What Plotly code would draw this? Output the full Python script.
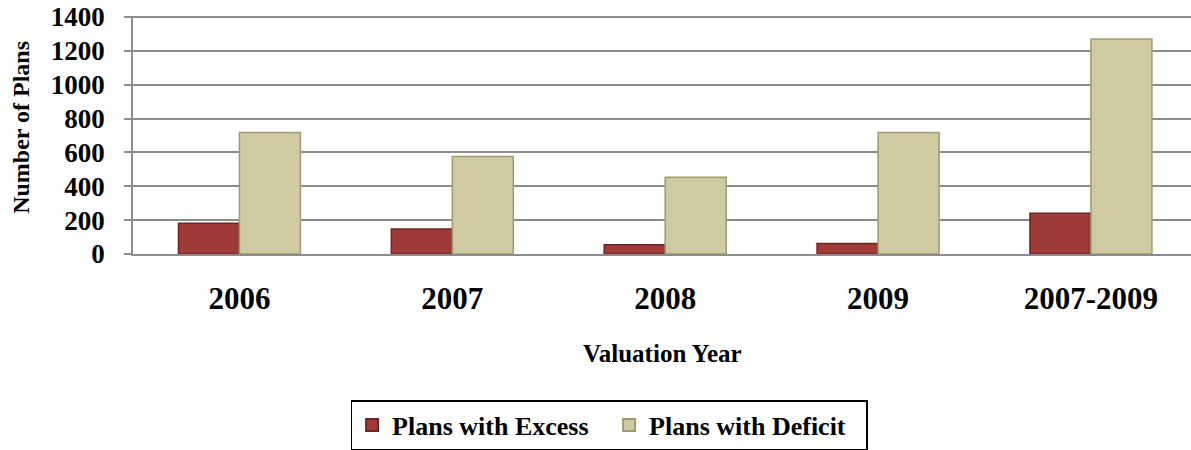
import plotly.graph_objects as go

categories = ["2006", "2007", "2008", "2009", "2007-2009"]
excess = [182, 147, 55, 62, 241]
deficit = [718, 576, 453, 718, 1270]
y_ticks = [0, 200, 400, 600, 800, 1000, 1200, 1400]

FONT = "Liberation Serif"

fig = go.Figure()
fig.add_trace(go.Bar(
    x=categories, y=excess, name="Plans with Excess",
    marker=dict(color="#9E3B39", line=dict(color="#6E2422", width=1.5)),
))
fig.add_trace(go.Bar(
    x=categories, y=deficit, name="Plans with Deficit",
    marker=dict(color="#D0CAA2", line=dict(color="#9F9A74", width=1.5)),
))

fig.update_layout(
    width=1191, height=450,
    margin=dict(l=133, r=0, t=16, b=195),
    paper_bgcolor="white", plot_bgcolor="white",
    barmode="group", bargap=0.427, bargroupgap=0,
    font=dict(family=FONT, color="black", weight="bold"),
    showlegend=True,
    legend=dict(
        orientation="h", x=0.45, xanchor="center", y=-0.613, yanchor="top",
        font=dict(family=FONT, size=26, color="black", weight="bold"),
        bordercolor="black", borderwidth=1.5, bgcolor="white",
        itemsizing="constant", traceorder="normal",
        entrywidth=212, entrywidthmode="pixels",
    ),
    xaxis=dict(
        range=[-0.5, 4.47], showgrid=False, showline=True,
        linecolor="#8C8C8C", linewidth=2, ticks="",
        tickfont=dict(family=FONT, size=31, weight="bold"),
        ticklabelstandoff=16, automargin=False,
    ),
    yaxis=dict(
        range=[0, 1406], tickvals=y_ticks, showgrid=True,
        gridcolor="#8C8C8C", gridwidth=1.5, showline=True,
        linecolor="#8C8C8C", linewidth=1.5, ticks="outside", ticklen=7,
        tickcolor="#8C8C8C", tickwidth=1.5,
        tickfont=dict(family=FONT, size=27, weight="bold"),
        ticklabelstandoff=14, zeroline=False, automargin=False,
    ),
    annotations=[
        dict(text="Valuation Year", xref="paper", yref="paper",
             x=0.5, y=-0.416, xanchor="center", yanchor="middle", showarrow=False,
             font=dict(family=FONT, size=25, color="black", weight="bold")),
        dict(text="Number of Plans", xref="paper", yref="paper", textangle=-90,
             x=-0.1059, y=0.534, xanchor="center", yanchor="middle", showarrow=False,
             font=dict(family=FONT, size=24, color="black", weight="bold")),
    ],
)

fig.write_html("out.html", config={"displayModeBar": False},
               post_script="document.body.style.margin='0';")
